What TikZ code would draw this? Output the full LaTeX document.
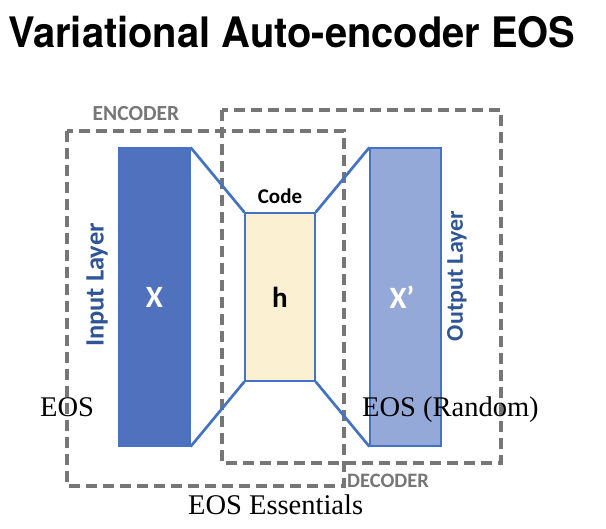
\documentclass[tikz,border=0pt]{standalone}
\usepackage{fontspec}
\setmainfont{Liberation Serif}
\setsansfont{Carlito}
\newfontfamily\titlefont{TeX Gyre Heros}
\definecolor{inblue}{HTML}{4F71BE}
\definecolor{outblue}{HTML}{95A9D8}
\definecolor{codefill}{HTML}{FBF1D2}
\definecolor{edgeblue}{HTML}{4472C4}
\definecolor{labelblue}{HTML}{2F5597}
\definecolor{boxgray}{HTML}{767676}
\begin{document}
\begin{tikzpicture}[x=1pt, y=-1pt,
	layer/.style={draw=edgeblue, line width=1.2pt, inner sep=0pt, minimum width=71pt},
	groupbox/.style={draw=boxgray, line width=3.2pt, dash pattern=on 11pt off 6pt},
	grouplabel/.style={text=boxgray, font=\sffamily\bfseries},
	sidelabel/.style={text=labelblue, rotate=90},
	eoslabel/.style={anchor=base west, inner sep=0pt, font=\fontsize{28.5}{28.5}\selectfont}]
	\useasboundingbox (0,0) rectangle (606,529);
	
	% Title
	\node[anchor=base, inner sep=0pt, font=\titlefont\bfseries\fontsize{42}{42}\selectfont] (title) at (292,48) {\scalebox{0.95}[1]{Variational Auto-encoder EOS}};
	
	% Encoder and decoder boxes
	\draw[groupbox] (67,131) rectangle (344,486);
	\draw[groupbox] (222,110) rectangle (501,463);
	\node[grouplabel, font=\sffamily\bfseries\fontsize{21.5}{21.5}\selectfont] (enc) at (136,114) {ENCODER};
	\node[grouplabel, font=\sffamily\bfseries\fontsize{20.5}{20.5}\selectfont] (dec) at (388,481) {DECODER};
	
	% Layers
	\node[layer, fill=inblue, minimum height=298pt] (in) at (154.5,297) {};
	\node[layer, fill=codefill, minimum width=70pt, minimum height=168pt] (code) at (280,297) {};
	\node[layer, fill=outblue, minimum height=298pt] (out) at (405.5,297) {};
	
	% Connectors
	\draw[edgeblue, line width=2.7pt] (in.north east) -- (code.north west);
	\draw[edgeblue, line width=2.7pt] (code.north east) -- (out.north west);
	\draw[edgeblue, line width=2.7pt] (in.south east) -- (code.south west);
	\draw[edgeblue, line width=2.7pt] (code.south east) -- (out.south west);
	
	% Layer texts
	\node[text=white, font=\sffamily\bfseries\fontsize{31}{31}\selectfont] (x) at (in) {X};
	\node[font=\sffamily\bfseries\fontsize{29}{29}\selectfont] (h) at (code) {h};
	\node[text=white, font=\sffamily\bfseries\fontsize{31}{31}\selectfont] (xp) at (402,297) {X’};
	\node[font=\sffamily\bfseries\fontsize{21}{21}\selectfont] (codelabel) at (280,196) {Code};
	\node[sidelabel, font=\sffamily\bfseries\fontsize{26.5}{26.5}\selectfont] (inlabel) at (97,285) {Input Layer};
	\node[sidelabel, font=\sffamily\bfseries\fontsize{24}{24}\selectfont] (outlabel) at (457,276) {Output Layer};
	
	% EOS texts
	\node[eoslabel] (eos) at (40,417) {EOS};
	\node[eoslabel] (eosrand) at (362,417) {EOS (Random)};
	\node[eoslabel] (eosess) at (188,515) {EOS Essentials};
\end{tikzpicture}
\end{document}
